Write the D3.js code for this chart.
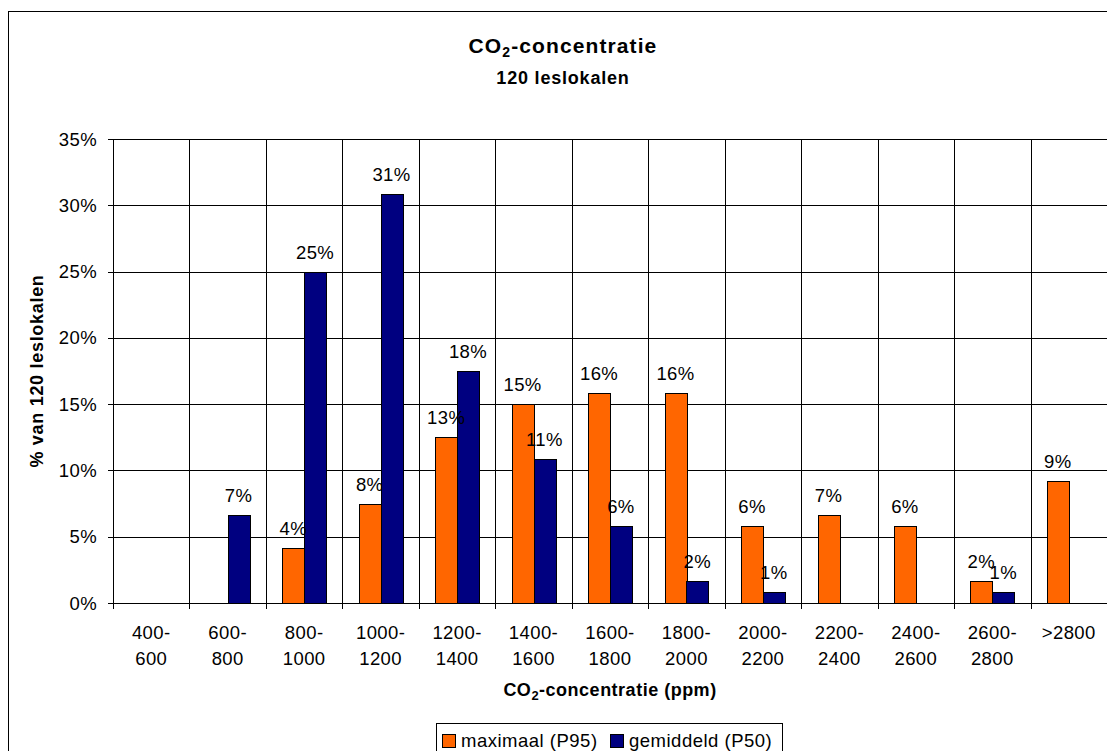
<!DOCTYPE html>
<html>
<head>
<meta charset="utf-8">
<script src="https://cdn.jsdelivr.net/npm/d3@7"></script>
<style>
  body { margin: 0; background: #fff; }
  svg { display: block; }
  text { font-family: "Liberation Sans", Arial, sans-serif; fill: #000; }
</style>
</head>
<body>
<svg id="chart" width="1107" height="751"></svg>
<script>
// CO2 classes (ppm)
const categories = ["400-600", "600-800", "800-1000", "1000-1200", "1200-1400", "1400-1600",
  "1600-1800", "1800-2000", "2000-2200", "2200-2400", "2400-2600", "2600-2800", ">2800"];
// share of classrooms (%) per class
const maximaal = [0, 0, 4.17, 7.5, 12.5, 15, 15.83, 15.83, 5.83, 6.67, 5.83, 1.67, 9.17];
const gemiddeld = [0, 6.67, 25, 30.83, 17.5, 10.83, 5.83, 1.67, 0.83, 0, 0, 0.83, 0];
const seriesNames = ["maximaal (P95)", "gemiddeld (P50)"];
const seriesColors = ["#FF6600", "#000080"];
const yTicks = [0, 5, 10, 15, 20, 25, 30, 35];

const svg = d3.select("#chart");
const plot = { left: 113, right: 1107, top: 139, bottom: 603 };

// outer chart frame
svg.append("rect")
  .attr("x", 8.5).attr("y", 11.5).attr("width", 1200).attr("height", 800)
  .attr("fill", "#fff").attr("stroke", "#000").attr("stroke-width", 1);

const x = d3.scaleBand().domain(categories).range([plot.left, plot.right]).paddingInner(0).paddingOuter(0);
const xs = d3.scaleBand().domain([0, 1]).range([0, x.bandwidth()]).paddingInner(0).paddingOuter(0.75);
const y = d3.scaleLinear().domain([0, 35]).range([plot.bottom, plot.top]);

const crisp = v => Math.round(v) + 0.5;

// horizontal gridlines + y ticks
const yAxis = svg.append("g").attr("class", "y-axis");
yAxis.selectAll("line.grid").data(yTicks).join("line")
  .attr("class", "grid")
  .attr("x1", plot.left - 5).attr("x2", plot.right)
  .attr("y1", d => crisp(y(d))).attr("y2", d => crisp(y(d)))
  .attr("stroke", "#000").attr("stroke-width", 1);
yAxis.selectAll("text").data(yTicks).join("text")
  .attr("x", 97).attr("y", d => y(d) + 6.5)
  .attr("text-anchor", "end")
  .attr("font-size", 18.5).attr("letter-spacing", 0.4)
  .text(d => d + "%");

// vertical gridlines at class boundaries, with ticks below the axis
const bounds = categories.map(c => x(c)).concat([plot.right]);
svg.append("g").selectAll("line").data(bounds).join("line")
  .attr("x1", d => crisp(d)).attr("x2", d => crisp(d))
  .attr("y1", plot.top).attr("y2", plot.bottom + 6)
  .attr("stroke", "#000").attr("stroke-width", 1);

// x tick labels, split after the dash
const xLab = svg.append("g").attr("class", "x-axis");
categories.forEach(c => {
  const parts = c.includes("-") ? [c.slice(0, c.indexOf("-") + 1), c.slice(c.indexOf("-") + 1)] : [c];
  const t = xLab.append("text")
    .attr("x", x(c) + x.bandwidth() / 2)
    .attr("y", 639)
    .attr("text-anchor", "middle")
    .attr("font-size", 18.5).attr("letter-spacing", 0.4);
  parts.forEach((p, i) => {
    t.append("tspan").attr("x", x(c) + x.bandwidth() / 2).attr("dy", i === 0 ? 0 : 25.5).text(p);
  });
});

// bars
const series = [maximaal, gemiddeld];
const bars = svg.append("g");
series.forEach((vals, si) => {
  bars.selectAll("rect.s" + si).data(vals.map((v, i) => ({ v, c: categories[i] })).filter(d => d.v > 0))
    .join("rect")
    .attr("class", "s" + si)
    .attr("x", d => Math.round(x(d.c) + xs(si)) + 0.5)
    .attr("width", Math.round(xs.bandwidth()))
    .attr("y", d => Math.round(y(d.v)) + 0.5)
    .attr("height", d => Math.round(y(0)) - Math.round(y(d.v)))
    .attr("fill", seriesColors[si])
    .attr("stroke", "#000").attr("stroke-width", 1);
});

// value labels
series.forEach((vals, si) => {
  bars.selectAll("text.l" + si).data(vals.map((v, i) => ({ v, c: categories[i] })).filter(d => d.v > 0))
    .join("text")
    .attr("class", "l" + si)
    .attr("x", d => x(d.c) + xs(si) + xs.bandwidth() / 2)
    .attr("y", d => y(d.v) - 13)
    .attr("text-anchor", "middle")
    .attr("font-size", 18.5).attr("letter-spacing", 0.4)
    .text(d => Math.round(d.v) + "%");
});

// x axis line
svg.append("line")
  .attr("x1", plot.left).attr("x2", plot.right)
  .attr("y1", crisp(y(0))).attr("y2", crisp(y(0)))
  .attr("stroke", "#000").attr("stroke-width", 1);

// titles
const title = svg.append("text")
  .attr("x", 563).attr("y", 53).attr("text-anchor", "middle")
  .attr("font-size", 21).attr("font-weight", "bold").attr("letter-spacing", 1.1);
title.append("tspan").text("CO");
title.append("tspan").attr("font-size", 14).attr("dy", 4).text("2");
title.append("tspan").attr("dy", -4).text("-concentratie");

svg.append("text")
  .attr("x", 563).attr("y", 84).attr("text-anchor", "middle")
  .attr("font-size", 18).attr("font-weight", "bold").attr("letter-spacing", 0.8)
  .text("120 leslokalen");

const xTitle = svg.append("text")
  .attr("x", (plot.left + plot.right) / 2).attr("y", 696).attr("text-anchor", "middle")
  .attr("font-size", 18).attr("font-weight", "bold").attr("letter-spacing", 0.5);
xTitle.append("tspan").text("CO");
xTitle.append("tspan").attr("font-size", 13).attr("dy", 4).text("2");
xTitle.append("tspan").attr("dy", -4).text("-concentratie (ppm)");

svg.append("text")
  .attr("transform", `translate(43,${(plot.top + plot.bottom) / 2}) rotate(-90)`)
  .attr("text-anchor", "middle")
  .attr("font-size", 18).attr("font-weight", "bold").attr("letter-spacing", 0.7)
  .text("% van 120 leslokalen");

// legend
const legend = svg.append("g");
legend.append("rect")
  .attr("x", 436.5).attr("y", 723.5).attr("width", 346).attr("height", 40)
  .attr("fill", "#fff").attr("stroke", "#000").attr("stroke-width", 1);
const legX = [442, 610];
seriesNames.forEach((name, i) => {
  legend.append("rect")
    .attr("x", legX[i] + 0.5).attr("y", 734.5).attr("width", 13).attr("height", 13)
    .attr("fill", seriesColors[i]).attr("stroke", "#000").attr("stroke-width", 1);
  legend.append("text")
    .attr("x", legX[i] + 19).attr("y", 747)
    .attr("font-size", 18.5).attr("letter-spacing", 0.5)
    .text(name);
});
</script>
</body>
</html>
